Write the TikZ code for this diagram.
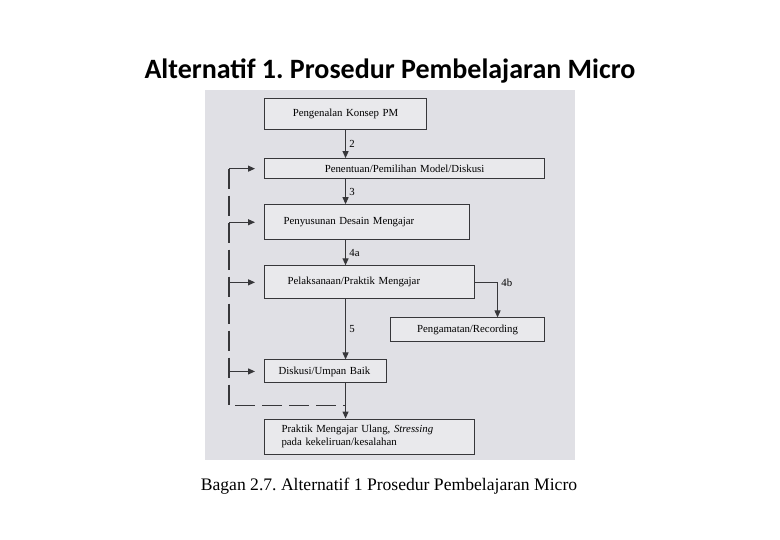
\documentclass[tikz,border=0pt]{standalone}
\usepackage{fontspec}
\setmainfont{Liberation Serif}
\newfontfamily\titlefont{Carlito}
\usepackage{tikz}
\usetikzlibrary{arrows.meta, positioning, calc}
\frenchspacing

\definecolor{scan}{RGB}{224,224,229}
\definecolor{boxfill}{RGB}{233,233,236}
\definecolor{ink}{RGB}{55,55,58}

\begin{document}
\begin{tikzpicture}[
        x=1pt, y=-1pt,
        box/.style={draw=ink, line width=1.1pt, fill=boxfill, rectangle, inner ysep=0pt, font=\fontsize{10.8}{12.5}\selectfont},
        arr/.style={-{Triangle[length=7pt, width=6pt]}, line width=1.1pt, draw=ink},
        num/.style={right, font=\fontsize{10.8}{12}\selectfont},
        loopline/.style={line width=1.1pt, draw=ink, dash pattern=on 20pt off 7pt},
        node distance=0pt
    ]
        \useasboundingbox (0,0) rectangle (780,540);
        \fill[scan] (205,90) rectangle (575,460);

        \node[font=\titlefont\bfseries\fontsize{28}{32}\selectfont] (judul) at (390,71) {Alternatif 1. Prosedur Pembelajaran Micro};

        \node[box, anchor=north west, text width=150pt, inner xsep=6pt, align=center, minimum height=31pt] (konsep) at (264,98) {Pengenalan Konsep PM};
        \node[box, below=28pt of konsep.south west, anchor=north west, text width=268pt, inner xsep=6pt, align=center, minimum height=20pt] (penentuan) {Penentuan/Pemilihan Model/Diskusi};
        \node[box, below=25pt of penentuan.south west, anchor=north west, text width=167pt, inner xsep=19pt, align=left, minimum height=35pt] (penyusunan) {Penyusunan Desain Mengajar};
        \node[box, below=25pt of penyusunan.south west, anchor=north west, text width=164pt, inner xsep=23pt, align=left, minimum height=33pt] (pelaksanaan) {Pelaksanaan/Praktik Mengajar};
        \node[box, below=18pt of pelaksanaan.south east, anchor=north east, xshift=70pt, text width=142pt, inner xsep=6pt, align=center, minimum height=24pt] (pengamatan) {Pengamatan/Recording};
        \node[box, below=60pt of pelaksanaan.south west, anchor=north west, text width=94pt, inner xsep=14pt, align=left, minimum height=23pt] (diskusi) {Diskusi/Umpan Baik};
        \node[box, below=35pt of diskusi.south west, anchor=north west, text width=176pt, inner xsep=17pt, align=left, minimum height=35pt] (ulang) {Praktik Mengajar Ulang, \textit{Stressing}\\pada kekeliruan/kesalahan};

        % alur utama
        \draw[arr] (konsep.south) -- node[num] {2} (penentuan.north -| konsep.south);
        \draw[arr] (penentuan.south -| konsep.south) -- node[num] {3} (penyusunan.north -| konsep.south);
        \draw[arr] (penyusunan.south -| konsep.south) -- node[num] {4a} (pelaksanaan.north -| konsep.south);
        \draw[arr] (pelaksanaan.south -| konsep.south) -- node[num] {5} (diskusi.north -| konsep.south);
        \draw[arr] (diskusi.south -| konsep.south) -- (ulang.north -| konsep.south);
        \draw[arr] (pelaksanaan.east) -| node[num, pos=0.5] {4b} ([xshift=30pt]pengamatan.north);

        % umpan balik
        \coordinate (balik) at ([xshift=-35pt, yshift=-22pt]diskusi.south west);
        \draw[loopline] (balik |- penentuan.west) -- (balik) -- (balik -| konsep.south);
        \foreach \n in {penentuan, penyusunan, pelaksanaan, diskusi}
            \draw[arr, shorten >=9pt] (balik |- \n.west) -- (\n.west);

        \node[font=\fontsize{17.6}{20}\selectfont] (bagan) at (389,486) {Bagan 2.7. Alternatif 1 Prosedur Pembelajaran Micro};
    \end{tikzpicture}
\end{document}
